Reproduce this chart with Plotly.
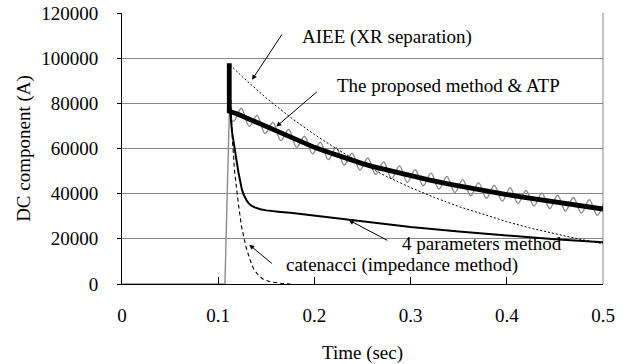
import plotly.graph_objects as go

# ---------------- data ----------------
# ATP result (gray, oscillating)
atp_t = [0.0, 0.107, 0.1115, 0.116, 0.1240, 0.1322, 0.1404, 0.1487, 0.1569, 0.1651,
         0.1733, 0.1815, 0.1898, 0.1980, 0.2062, 0.2144, 0.2226, 0.2309, 0.2391, 0.2473,
         0.2555, 0.2637, 0.2720, 0.2802, 0.2884, 0.2966, 0.3048, 0.3131, 0.3213, 0.3295,
         0.3377, 0.3460, 0.3542, 0.3624, 0.3706, 0.3788, 0.3870, 0.3953, 0.4035, 0.4117,
         0.4199, 0.4282, 0.4364, 0.4446, 0.4528, 0.4610, 0.4692, 0.4775, 0.4857, 0.4939, 0.5]
atp_v = [0, 0, 75000, 72000, 77800, 69800, 74600, 66600, 71500, 63500,
         68400, 60500, 65400, 57600, 62800, 55100, 60300, 52700, 57900, 50500,
         55800, 48500, 54000, 46700, 52300, 45000, 50600, 43500, 49100, 42000,
         47600, 40500, 46200, 39100, 44900, 37900, 43700, 36700, 42600, 35600,
         41400, 34500, 40300, 33400, 39300, 32300, 38300, 31400, 37300, 30400, 35200]

# The proposed method (thick black)
prop_t = [0.1115, 0.1115, 0.12, 0.13, 0.14, 0.15, 0.16, 0.17, 0.18, 0.19, 0.20, 0.21,
          0.22, 0.23, 0.24, 0.25, 0.26, 0.27, 0.28, 0.29, 0.30, 0.32, 0.34, 0.36,
          0.38, 0.40, 0.42, 0.44, 0.46, 0.48, 0.50]
prop_v = [97800, 76500, 75300, 73400, 71500, 69600, 67700, 65800, 64000, 62200, 60500, 59000,
          57500, 56000, 54600, 53300, 52100, 51000, 49900, 48900, 47900, 46000, 44200, 42500,
          41000, 39600, 38200, 36900, 35600, 34400, 33200]

# AIEE (XR separation) (dotted)
aiee_t = [0.1125, 0.125, 0.15, 0.175, 0.2, 0.225, 0.25, 0.275, 0.3, 0.325, 0.35,
          0.375, 0.4, 0.425, 0.45, 0.475, 0.5]
aiee_v = [97000, 91800, 82300, 73800, 66200, 59300, 53200, 47600, 42700, 38300, 34300,
          30800, 27600, 24700, 22200, 19900, 17800]

# 4 parameters method (medium black)
four_t = [0.1115, 0.1125, 0.1145, 0.116, 0.118, 0.1195, 0.121, 0.1225, 0.1247, 0.1265,
          0.128, 0.130, 0.1316, 0.134, 0.138, 0.1438, 0.150, 0.155, 0.165, 0.175,
          0.2, 0.225, 0.25, 0.275, 0.3, 0.35, 0.4, 0.45, 0.5]
four_v = [97000, 76000, 67000, 62400, 57000, 53500, 49500, 46000, 41700, 39500,
          38000, 36700, 35800, 34800, 33900, 33100, 32600, 32300, 31900, 31500,
          30200, 28900, 27600, 26400, 25200, 23200, 21400, 19800, 18500]

# catenacci (impedance method) (dashed)
cat_t = [0.1115, 0.113, 0.1146, 0.117, 0.119, 0.121, 0.124, 0.126, 0.128, 0.130,
         0.132, 0.1345, 0.137, 0.142, 0.147, 0.155, 0.165, 0.175]
cat_v = [97000, 80000, 65000, 50000, 42000, 35500, 26000, 21500, 18000, 14800,
         12000, 9000, 6500, 3800, 2000, 900, 300, 0]

x_ticks = [0, 0.1, 0.2, 0.3, 0.4, 0.5]
x_tick_text = ["0", "0.1", "0.2", "0.3", "0.4", "0.5"]
y_ticks = [0, 20000, 40000, 60000, 80000, 100000, 120000]
y_tick_text = ["0", "20000", "40000", "60000", "80000", "100000", "120000"]

FONT = "Liberation Serif, Tinos, DejaVu Serif"
FS = 19

fig = go.Figure()

# ATP gray: flat + rise (linear), then oscillation (spline)
fig.add_trace(go.Scatter(x=atp_t[:3], y=atp_v[:3], mode="lines",
                         line=dict(color="#8c8c8c", width=1.4), showlegend=False,
                         hoverinfo="skip"))
fig.add_trace(go.Scatter(x=atp_t[2:], y=atp_v[2:], mode="lines",
                         line=dict(color="#8c8c8c", width=1.4, shape="spline", smoothing=1.0),
                         showlegend=False, hoverinfo="skip"))
fig.add_trace(go.Scatter(x=aiee_t, y=aiee_v, mode="lines",
                         line=dict(color="black", width=1, dash="2px,2px"),
                         showlegend=False))
fig.add_trace(go.Scatter(x=cat_t, y=cat_v, mode="lines",
                         line=dict(color="black", width=1.1, dash="4px,3px"),
                         showlegend=False))
fig.add_trace(go.Scatter(x=four_t, y=four_v, mode="lines",
                         line=dict(color="black", width=2),
                         showlegend=False))
fig.add_trace(go.Scatter(x=prop_t, y=prop_v, mode="lines",
                         line=dict(color="black", width=4.8),
                         showlegend=False))

# Right border (gray)
fig.add_shape(type="line", xref="paper", yref="paper", x0=1, x1=1, y0=0, y1=1,
              line=dict(color="#888888", width=1), layer="below")

# Labels
labels = [
    ("AIEE (XR separation)", 0.2755, 109400),
    ("The proposed method &amp; ATP", 0.339, 87700),
    ("4 parameters method", 0.3745, 17800),
    ("catenacci (impedance method)", 0.2906, 8500),
]
for txt, lx, ly in labels:
    fig.add_annotation(x=lx, y=ly, xref="x", yref="y", text=txt, showarrow=False,
                       font=dict(family=FONT, size=FS, color="black"),
                       xanchor="center", yanchor="middle")

# Arrows: (head x, head y, tail offset ax, ay in px)
arrows = [
    (0.1351, 90400, 31, -47),
    (0.1604, 69700, 42, -36),
    (0.2357, 28300, 40, 21),
    (0.1323, 17400, 24, 20),
]
for hx, hy, ax, ay in arrows:
    fig.add_annotation(x=hx, y=hy, xref="x", yref="y", text="", showarrow=True,
                       ax=ax, ay=ay, axref="pixel", ayref="pixel",
                       arrowhead=2, arrowsize=1, arrowwidth=1, arrowcolor="black",
                       standoff=0, startstandoff=0)

fig.update_layout(
    width=626, height=364,
    margin=dict(l=122, r=23, t=13, b=80, autoexpand=False),
    paper_bgcolor="white", plot_bgcolor="white",
    font=dict(family=FONT, size=FS, color="black"),
    showlegend=False,
)
fig.update_xaxes(
    automargin=False,
    range=[0, 0.5], tickvals=x_ticks, ticktext=x_tick_text,
    showgrid=False, zeroline=False,
    showline=True, linecolor="black", linewidth=1,
    ticks="inside", ticklen=7, tickcolor="black", tickwidth=1,
    ticklabelstandoff=14,
    tickfont=dict(family=FONT, size=FS, color="black"),
    title=dict(text="Time (sec)", font=dict(family=FONT, size=FS, color="black"), standoff=26),
)
fig.update_yaxes(
    automargin=False,
    range=[0, 120000], tickvals=y_ticks, ticktext=y_tick_text,
    showgrid=True, gridcolor="#888888", gridwidth=1, zeroline=False,
    showline=True, linecolor="black", linewidth=1,
    ticks="outside", ticklen=4, tickcolor="black", tickwidth=1,
    ticklabelstandoff=15,
    tickfont=dict(family=FONT, size=FS, color="black"),
    title=dict(text="DC component (A)", font=dict(family=FONT, size=FS, color="black"), standoff=5),
)

fig.write_html("out.html")
